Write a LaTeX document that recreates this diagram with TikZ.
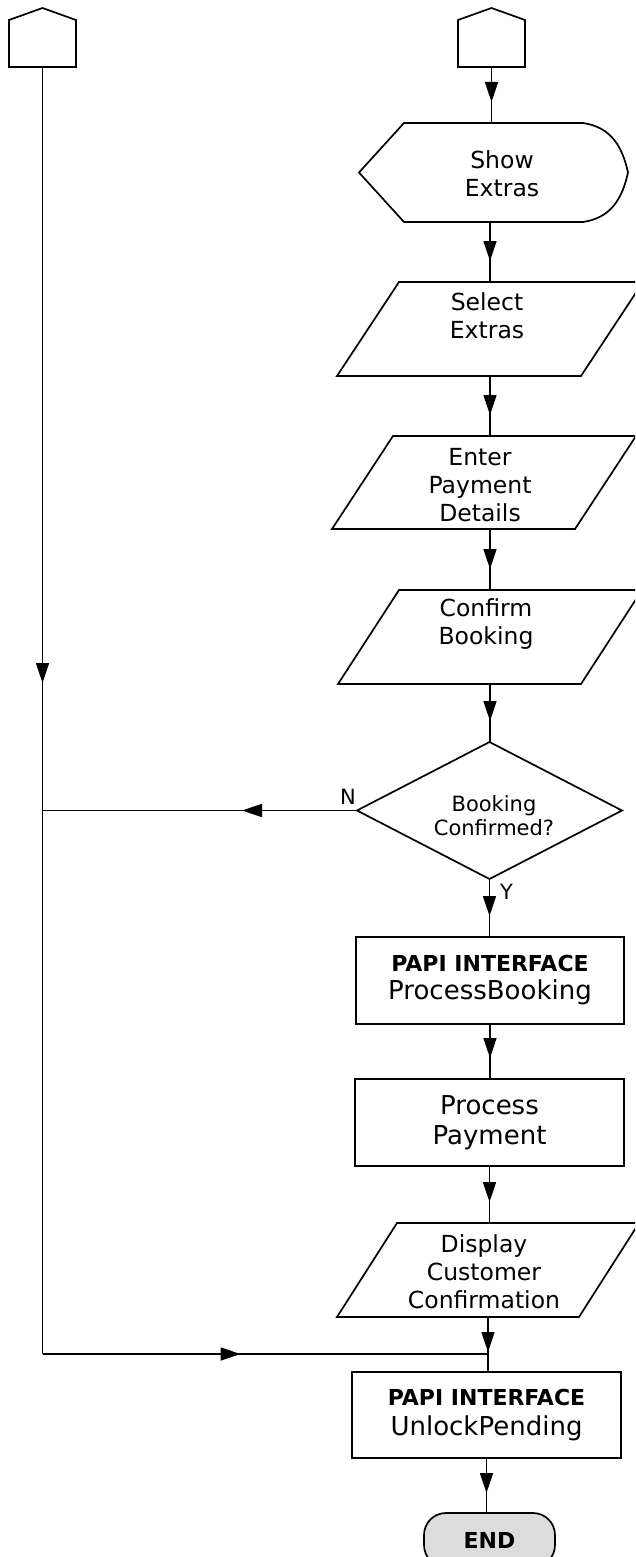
\documentclass[tikz,border=0pt]{standalone}
\usepackage{fontspec}
\setmainfont{DejaVu Sans}
\usetikzlibrary{arrows.meta,calc,decorations.markings}
\tikzset{
 shp/.style={inner sep=0pt,outer sep=0pt,draw=none},
 outl/.style={draw=black,line width=1.7pt,line join=miter},
 pg/.style={font=\fontsize{23.5}{28}\selectfont,align=center,inner sep=0pt},
 bx/.style={draw=black,line width=1.7pt,inner sep=0pt,outer sep=0pt,align=center},
 lbl/.style={font=\fontsize{21}{24}\selectfont,inner sep=0pt},
 conn/.style={line width=1.7pt,postaction={decorate},decoration={markings,mark=at position #1 with {\arrow{Triangle[length=20pt,width=13pt]}}}},
 conn/.default=-21pt,
}
\newcommand\drawpara[2]{\draw[outl] (#1.south west) -- ($(#1.north west)+(#2,0)$) -- (#1.north east) -- ($(#1.south east)-(#2,0)$) -- cycle;}
\begin{document}
\begin{tikzpicture}[x=1pt,y=-1pt]
\useasboundingbox (0,0) rectangle (635,1557);
\clip (0,0) rectangle (635,1557);
% off-page connectors
\node[shp,minimum width=67pt,minimum height=59pt] (pl) at (42.5,37.5) {};
\draw[outl] (pl.south west) -- ($(pl.north west)+(0,12)$) -- (pl.north) -- ($(pl.north east)+(0,12)$) -- (pl.south east) -- cycle;
\node[shp,minimum width=67pt,minimum height=59pt] (pr) at (491.5,37.5) {};
\draw[outl] (pr.south west) -- ($(pr.north west)+(0,12)$) -- (pr.north) -- ($(pr.north east)+(0,12)$) -- (pr.south east) -- cycle;
% show extras (display)
\node[shp,minimum width=269pt,minimum height=99pt] (show) at (493.5,172.5) {};
\draw[outl] (show.west) -- ($(show.north west)+(45,0)$) -- ($(show.north east)+(-45,0)$)
  .. controls ($(show.north east)+(-18,4)$) and ($(show.north east)+(-6,22)$) .. (show.east)
  .. controls ($(show.south east)+(-6,-22)$) and ($(show.south east)+(-18,-4)$) .. ($(show.south east)+(-45,0)$)
  -- ($(show.south west)+(45,0)$) -- cycle;
\node[pg] (show-t) at (502,174) {Show\\Extras};
% select extras
\node[shp,minimum width=306pt,minimum height=94pt] (sel) at (490,329) {};
\drawpara{sel}{62}
\node[pg] (sel-t) at (487,316) {Select\\Extras};
% enter payment details
\node[shp,minimum width=304pt,minimum height=93pt] (ent) at (484,482.5) {};
\drawpara{ent}{61}
\node[pg] (ent-t) at (480,485) {Enter\\Payment\\Details};
% confirm booking
\node[shp,minimum width=304pt,minimum height=94pt] (conf) at (490,637) {};
\drawpara{conf}{61}
\node[pg] (conf-t) at (486,624.5) {Confirm\\Booking};
% decision
\node[shp,minimum width=265pt,minimum height=137pt] (dec) at (489.5,810.5) {};
\draw[outl] (dec.north) -- (dec.east) -- (dec.south) -- (dec.west) -- cycle;
\node[lbl,align=center] (dec-t) at (494,816) {Booking\\Confirmed?};
% boxes
\node[bx,minimum width=268pt,minimum height=87pt,font=\fontsize{26}{28}\selectfont] (pb) at (490,980.5) {{\fontsize{22}{28}\selectfont\bfseries PAPI INTERFACE}\\ProcessBooking};
\node[bx,minimum width=269pt,minimum height=87pt,font=\fontsize{26}{30}\selectfont] (pp) at (489.5,1122.5) {Process\\Payment};
\node[shp,minimum width=302pt,minimum height=94pt] (disp) at (488,1270) {};
\drawpara{disp}{60}
\node[pg] (disp-t) at (484,1271.5) {Display\\Customer\\Confirmation};
\node[bx,minimum width=269pt,minimum height=86pt,font=\fontsize{26}{30}\selectfont] (up) at (486.5,1415) {{\fontsize{22}{28}\selectfont\bfseries PAPI INTERFACE}\\UnlockPending};
\node[bx,minimum width=131pt,minimum height=54pt,rounded corners=22pt,fill={rgb,255:red,220;green,220;blue,220},font=\fontsize{22}{26}\selectfont\bfseries] (end) at (489.5,1540) {END};
% connectors
\draw[conn] (pr.south) -- (pr.south |- show.north);
\draw[conn] (show.south -| sel.north) -- (sel.north);
\draw[conn] (sel.south) -- (sel.south |- ent.north);
\draw[conn] (ent.south -| conf.north) -- (conf.north);
\draw[conn] (conf.south) -- (conf.south |- dec.north);
\draw[conn] (dec.south) -- (dec.south |- pb.north);
\draw[conn] (pb.south) -- (pb.south |- pp.north);
\draw[conn] (pp.south) -- (pp.south |- disp.north);
\coordinate (jn) at (disp.south |- 0,1354);
\coordinate (cr) at (pl.south |- jn);
\draw[conn=-20pt] (disp.south) -- (disp.south |- up.north);
\draw[conn=-20pt] (up.south) -- (up.south |- end.north);
\draw[conn=616pt] (pl.south) -- (cr);
\draw[conn=198pt] (cr) -- (jn);
\draw[conn=115pt] (dec.west) -- (dec.west -| cr);
\node[lbl] (nlab) at ($(dec.west)+(-9,-14)$) {N};
\node[lbl] (ylab) at ($(dec.south)+(17,13)$) {Y};
\end{tikzpicture}
\end{document}
